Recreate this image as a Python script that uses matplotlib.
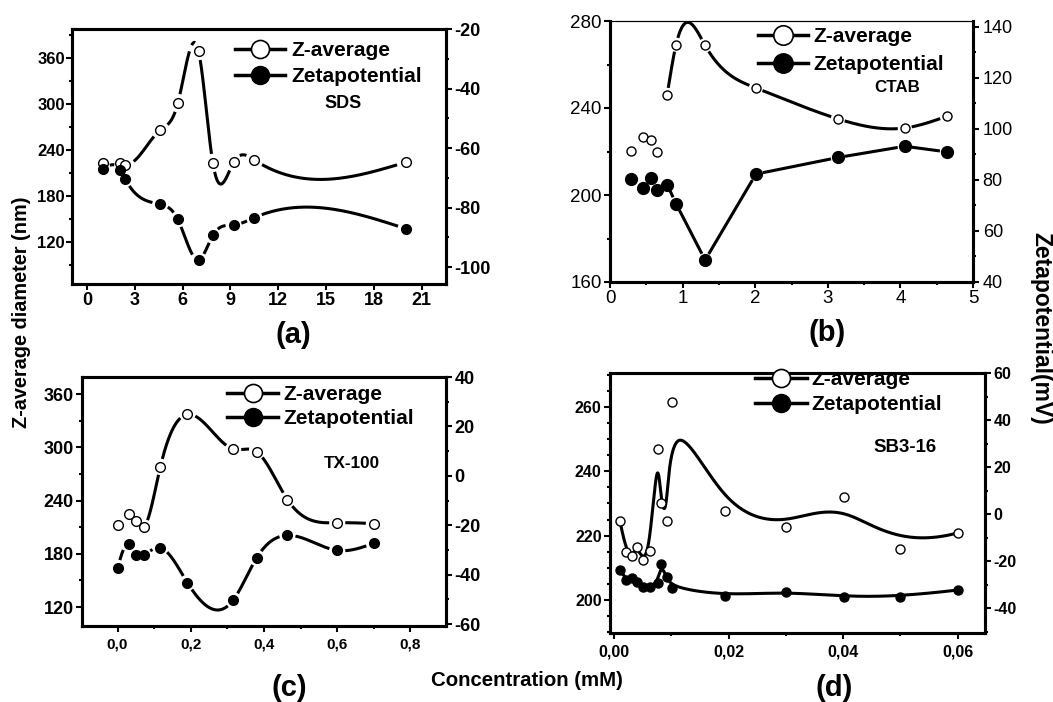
import numpy as np
import matplotlib
matplotlib.use("Agg")
import matplotlib.pyplot as plt
from matplotlib.lines import Line2D
from matplotlib.ticker import MultipleLocator

plt.rcParams['font.family'] = ['Liberation Sans', 'DejaVu Sans']

# ---------------- data ----------------
# (a) SDS
sds_conc = [1.0, 2.1, 2.4, 4.6, 5.7, 7.0, 7.9, 9.2, 10.5, 20.0]
sds_zavg = [223, 223, 221, 266, 301, 369, 223, 224, 227, 224]
sds_zeta = [-67.2, -67.4, -70.4, -78.9, -84.0, -97.6, -89.4, -85.9, -83.4, -87.1]
# (b) CTAB
ctab_conc = [0.29, 0.453, 0.56, 0.65, 0.787, 0.91, 1.31, 2.01, 3.14, 4.06, 4.64]
ctab_zavg = [220.1, 226.8, 225.3, 219.6, 246.0, 269.1, 268.8, 249.2, 235.0, 230.8, 236.2]
ctab_zeta = [80.4, 76.9, 80.7, 76.0, 78.2, 70.7, 48.6, 82.3, 88.8, 93.2, 91.0]
ctab_line_from = 4          # first point joined by a line
# (c) TX-100
tx_conc = [0.0, 0.030, 0.051, 0.071, 0.117, 0.191, 0.316, 0.380, 0.464, 0.600, 0.700]
tx_zavg = [212, 224.8, 217, 210, 278, 337, 298, 295, 241, 215, 214]
tx_zeta = [-37.3, -27.5, -32.2, -32.2, -29.2, -43.3, -50.3, -33.2, -24.1, -30.2, -27.3]
# (d) SB3-16
sb_conc = [0.00105, 0.0021, 0.0031, 0.0041, 0.0050, 0.0062, 0.0076, 0.0082, 0.0092,
           0.0101, 0.0193, 0.0301, 0.0401, 0.0500, 0.0601]
sb_zavg = [224.5, 215.0, 213.8, 216.4, 212.6, 215.2, 247.0, 230.1, 224.6,
           261.4, 227.6, 222.8, 231.9, 216.0, 220.9]
sb_zeta = [-23.7, -28.0, -27.0, -29.0, -30.9, -30.9, -29.1, -21.3, -26.8,
           -31.2, -34.6, -32.9, -35.1, -35.1, -32.2]

# ticks
a_xticks = [0, 3, 6, 9, 12, 15, 18, 21]
a_yticks = [120, 180, 240, 300, 360]
a_y2ticks = [-100, -80, -60, -40, -20]
b_xticks = [0, 1, 2, 3, 4, 5]
b_yticks = [160, 200, 240, 280]
b_y2ticks = [40, 60, 80, 100, 120, 140]
c_xticks = [0.0, 0.2, 0.4, 0.6, 0.8]
c_xlabels = ['0,0', '0,2', '0,4', '0,6', '0,8']
c_yticks = [120, 180, 240, 300, 360]
c_y2ticks = [-60, -40, -20, 0, 20, 40]
d_xticks = [0.0, 0.02, 0.04, 0.06]
d_xlabels = ['0,00', '0,02', '0,04', '0,06']
d_yticks = [200, 220, 240, 260]
d_y2ticks = [-40, -20, 0, 20, 40, 60]

labels = ['Z-average', 'Zetapotential']

# ---------------- figure ----------------
W, H = 1053, 702
fig = plt.figure(figsize=(W / 100, H / 100), dpi=100)
fig.patch.set_facecolor('white')


def box(l, t, r, b):
    return [l / W, 1 - b / H, (r - l) / W, (b - t) / H]


def nat_spline(t, v, ts):
    t = np.asarray(t, float)
    v = np.asarray(v, float)
    n = len(t)
    if n < 3:
        return np.interp(ts, t, v)
    h = np.diff(t)
    A = np.zeros((n, n))
    r = np.zeros(n)
    A[0, 0] = 1
    A[-1, -1] = 1
    for i in range(1, n - 1):
        A[i, i - 1] = h[i - 1]
        A[i, i] = 2 * (h[i - 1] + h[i])
        A[i, i + 1] = h[i]
        r[i] = 6 * ((v[i + 1] - v[i]) / h[i] - (v[i] - v[i - 1]) / h[i - 1])
    M = np.linalg.solve(A, r)
    idx = np.clip(np.searchsorted(t, ts, side='right') - 1, 0, n - 2)
    t0, t1 = t[idx], t[idx + 1]
    hh = t1 - t0
    a = (t1 - ts) / hh
    b = (ts - t0) / hh
    return a * v[idx] + b * v[idx + 1] + ((a ** 3 - a) * M[idx] + (b ** 3 - b) * M[idx + 1]) * hh ** 2 / 6


def bspline(P, ns):
    n = len(P)
    k = 3
    knots = np.concatenate([np.zeros(k), np.linspace(0, 1, n - k + 1), np.ones(k)])
    u = np.linspace(0, 1, ns)
    u[-1] = 1 - 1e-12
    N = np.zeros((ns, len(knots) - 1))
    for i in range(len(knots) - 1):
        N[:, i] = ((knots[i] <= u) & (u < knots[i + 1])).astype(float)
    for d in range(1, k + 1):
        Nn = np.zeros((ns, len(knots) - 1 - d))
        for i in range(len(knots) - 1 - d):
            term = np.zeros(ns)
            d1 = knots[i + d] - knots[i]
            if d1 > 0:
                term += (u - knots[i]) / d1 * N[:, i]
            d2 = knots[i + d + 1] - knots[i + 1]
            if d2 > 0:
                term += (knots[i + d + 1] - u) / d2 * N[:, i + 1]
            Nn[:, i] = term
        N = Nn
    return N @ P


def draw_curve(ax, x, y, kind, gap, lw=2.2):
    x = np.asarray(x, float)
    y = np.asarray(y, float)
    P = ax.transData.transform(np.column_stack([x, y]))
    ns = 4000
    if kind == 'bspline':
        C = bspline(P, ns)
    else:
        xs = np.linspace(x[0], x[-1], ns)
        if kind == 'spline':
            ys = nat_spline(x, y, xs)
        else:
            xs = np.concatenate([np.linspace(x[i], x[i + 1], 400) for i in range(len(x) - 1)])
            ys = np.interp(xs, x, y)
        C = ax.transData.transform(np.column_stack([xs, ys]))
    if gap > 0:
        dist = np.min(np.hypot(C[:, None, 0] - P[None, :, 0], C[:, None, 1] - P[None, :, 1]), axis=1)
        C[dist < gap] = np.nan
    D = ax.transData.inverted().transform(C)
    ax.plot(D[:, 0], D[:, 1], color='k', lw=lw, solid_capstyle='butt', zorder=2)


def make_panel(bpx, xlim, ylim, y2lim):
    ax = fig.add_axes(box(*bpx))
    ax.set_xlim(xlim)
    ax.set_ylim(ylim)
    axr = ax.twinx()
    axr.set_ylim(y2lim)
    for a in (ax, axr):
        for s in a.spines.values():
            s.set_linewidth(2.2)
    ax.tick_params(which='both', direction='out', right=False, top=False, width=1.5)
    axr.tick_params(which='both', direction='out', width=1.5)
    for a in (ax, axr):
        a.tick_params(which='major', length=4)
        a.tick_params(which='minor', length=2.5)
    return ax, axr


def markers(ax, x, y, filled, ms):
    ax.plot(x, y, ls='none', marker='o', ms=ms, mfc='k' if filled else 'white',
            mec='k', mew=1.0, zorder=4, clip_on=False)


def legend(axr, left, top, ms, hl, pad, spacing, clip=False):
    h1 = Line2D([], [], color='k', lw=2.5, marker='o', ms=ms, mfc='white', mec='k', mew=1.2)
    h2 = Line2D([], [], color='k', lw=2.5, marker='o', ms=ms, mfc='k', mec='k')
    leg = axr.legend([h1, h2], labels, loc='upper left', bbox_to_anchor=(left / W, 1 - top / H),
                     bbox_transform=fig.transFigure, frameon=False, borderpad=0, borderaxespad=0,
                     handlelength=hl, handletextpad=pad, labelspacing=spacing, numpoints=1,
                     prop=dict(weight='bold', size=15))
    if clip:
        for t in leg.get_texts():
            t.set_clip_box(axr.bbox)
            t.set_clip_on(True)
    return leg


bold = dict(fontweight='bold')

# ---------- (a) SDS ----------
ax, axr = make_panel((72, 29, 446, 284), (-0.94, 22.53), (65.2, 397.8), (-105.7, -20))
ax.set_xticks(a_xticks, [str(v) for v in a_xticks], fontsize=13, **bold)
ax.set_yticks(a_yticks, [str(v) for v in a_yticks], fontsize=12, **bold)
axr.set_yticks(a_y2ticks, [str(v) for v in a_y2ticks], fontsize=13, **bold)
ax.yaxis.set_minor_locator(MultipleLocator(30))
axr.yaxis.set_minor_locator(MultipleLocator(10))
ax.tick_params(axis='y', pad=1)
ax.tick_params(axis='x', pad=2)
axr.tick_params(axis='y', pad=2)
draw_curve(ax, sds_conc, sds_zavg, 'spline', 9)
draw_curve(axr, sds_conc, sds_zeta, 'spline', 8)
markers(ax, sds_conc, sds_zavg, False, 7)
markers(axr, sds_conc, sds_zeta, True, 7)
legend(axr, 235, 41, 13, 2.4, 0.3, 0.34)
ax.text((343 - 72) / 374, 1 - (104 - 29) / 255, 'SDS', transform=ax.transAxes,
        ha='center', va='center', fontsize=13, **bold)

# ---------- (b) CTAB ----------
ax, axr = make_panel((610, 21, 973, 282), (0, 5), (160, 280), (42.5, 142.3))
ax.set_xticks(b_xticks, [str(v) for v in b_xticks], fontsize=13.5)
ax.set_yticks(b_yticks, [str(v) for v in b_yticks], fontsize=13.5)
axr.set_yticks(b_y2ticks, [str(v) for v in b_y2ticks], fontsize=13)
ax.xaxis.set_minor_locator(MultipleLocator(0.5))
ax.yaxis.set_minor_locator(MultipleLocator(20))
axr.yaxis.set_minor_locator(MultipleLocator(10))
ax.tick_params(axis='y', pad=2)
ax.tick_params(axis='x', pad=2)
axr.tick_params(axis='y', pad=3)
for a in (ax, axr):
    a.spines['top'].set_linewidth(0.8)
draw_curve(ax, ctab_conc[ctab_line_from:], ctab_zavg[ctab_line_from:], 'spline', 7)
draw_curve(axr, ctab_conc[ctab_line_from:], ctab_zeta[ctab_line_from:], 'straight', 7)
markers(ax, ctab_conc, ctab_zavg, False, 6.5)
markers(axr, ctab_conc, ctab_zeta, True, 8.5)
legend(axr, 758, 27, 14, 2.4, 0.25, 0.44)
ax.text((897 - 610) / 363, 1 - (88 - 21) / 261, 'CTAB', transform=ax.transAxes,
        ha='center', va='center', fontsize=12.2, **bold)

# ---------- (c) TX-100 ----------
ax, axr = make_panel((82, 377, 446, 626), (-0.097, 0.897), (98.6, 379.2), (-60.8, 40))
ax.set_xticks(c_xticks, c_xlabels, fontsize=11, **bold)
ax.set_yticks(c_yticks, [str(v) for v in c_yticks], fontsize=13, **bold)
axr.set_yticks(c_y2ticks, [str(v) for v in c_y2ticks], fontsize=13, **bold)
ax.xaxis.set_minor_locator(MultipleLocator(0.1))
ax.yaxis.set_minor_locator(MultipleLocator(30))
axr.yaxis.set_minor_locator(MultipleLocator(10))
ax.tick_params(axis='y', pad=2)
ax.tick_params(axis='x', pad=4)
axr.tick_params(axis='y', pad=2)
draw_curve(ax, tx_conc, tx_zavg, 'spline', 8)
draw_curve(axr, tx_conc, tx_zeta, 'spline', 8)
markers(ax, tx_conc, tx_zavg, False, 7)
markers(axr, tx_conc, tx_zeta, True, 7)
legend(axr, 227, 385, 13, 2.45, 0.25, 0.24)
ax.text((352 - 82) / 364, 1 - (464 - 377) / 249, 'TX-100', transform=ax.transAxes,
        ha='center', va='center', fontsize=12.3, **bold)

# ---------- (d) SB3-16 ----------
ax, axr = make_panel((610, 373, 985, 633), (-0.0007, 0.0648), (189.8, 270.5), (-50.5, 60.1))
ax.set_xticks(d_xticks, d_xlabels, fontsize=11.5, **bold)
ax.set_yticks(d_yticks, [str(v) for v in d_yticks], fontsize=11.5, **bold)
axr.set_yticks(d_y2ticks, [str(v) for v in d_y2ticks], fontsize=11.5, **bold)
ax.xaxis.set_minor_locator(MultipleLocator(0.01))
ax.yaxis.set_minor_locator(MultipleLocator(5))
axr.yaxis.set_minor_locator(MultipleLocator(10))
ax.tick_params(axis='y', pad=2)
ax.tick_params(axis='x', pad=4)
axr.tick_params(axis='y', pad=2)
draw_curve(ax, sb_conc, sb_zavg, 'bspline', 0)
draw_curve(axr, sb_conc, sb_zeta, 'bspline', 0)
markers(ax, sb_conc, sb_zavg, False, 6.5)
markers(axr, sb_conc, sb_zeta, True, 6.5)
legend(axr, 755, 370, 13, 2.5, 0.2, 0.29, clip=True)
ax.text((905 - 610) / 375, 1 - (448 - 373) / 260, 'SB3-16', transform=ax.transAxes,
        ha='center', va='center', fontsize=13.4, **bold)

# ---------- shared labels ----------
fig.text(22 / W, 1 - 312 / H, 'Z-average diameter (nm)', rotation=90, ha='center',
         va='center', fontsize=14.3, **bold)
fig.text(1041 / W, 1 - 328 / H, 'Zetapotential(mV)', rotation=270, ha='center',
         va='center', fontsize=16.5, **bold)
fig.text(527 / W, 1 - 680 / H, 'Concentration (mM)', ha='center', va='center',
         fontsize=14.7, **bold)
for lab, (px, py) in zip(['(a)', '(b)', '(c)', '(d)'],
                         [(293, 335), (827, 333), (289, 688), (834, 688)]):
    fig.text(px / W, 1 - py / H, lab, ha='center', va='center', fontsize=21, **bold)

fig.savefig('out.png', dpi=100, facecolor='white')
